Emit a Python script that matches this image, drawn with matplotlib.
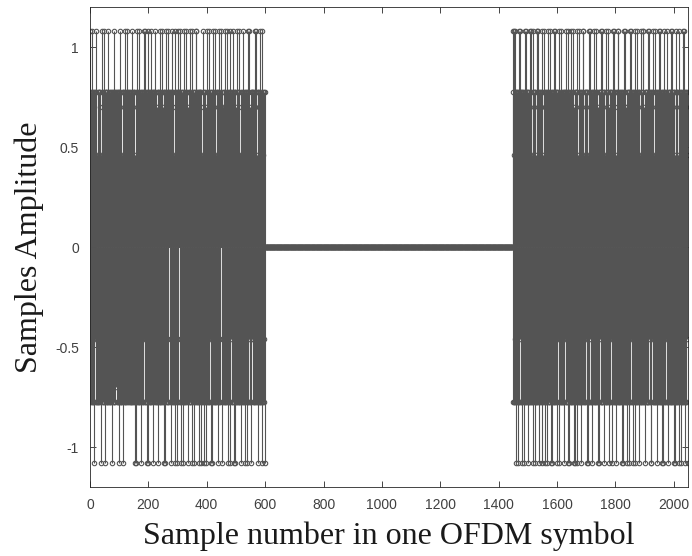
import numpy as np
import matplotlib
matplotlib.use("Agg")
import matplotlib.pyplot as plt

N_FFT = 2048
# amplitude levels seen in the plot, indexed by the digits in the strings below
LEVELS = [-1.08, -0.775, -0.70, -0.46, -0.155, 0.155, 0.46, 0.70, 0.775, 1.08]

# samples at the start of the symbol
BLOCK_1 = (
    "91816381917180813861" "81916381418183718063" "98113861918073818161"
    "81936181718184806381" "61819381728183618180" "81619381156180817381"
    "91816381917281836181" "81639181738180618041" "98113861918172806381"
    "81619381917183608180" "91836181918781638083" "81619381517180816381"
    "91816391837180816083" "61918391818673818061" "81917381619083816180"
    "93818861917380618081" "71916381819361807381" "81619381956081738108"
    "61919381718160838180" "81736191816083817061" "91816381917381608081"
    "63918171819361818063" "81916381759180617381" "81916381719360818180"
    "91836181751980638081" "71819361819183617081" "81639181716083815180"
    "91816391718160838183" "61819371918163818071" "81916381719081638180"
)
# samples at the end of the symbol
BLOCK_2 = (
    "91819161938180718081" "91816391818180718360" "81919163818180718163"
    "91918161938071818081" "61919381918081637180" "81916391818071818360"
    "91818163918071806381" "81919163818180738160" "91836191817181608183"
    "81916381918070816381" "91618193817081608180" "91836181917181806381"
    "91916381818371808160" "81913691817180816381" "91816391818071608183"
    "81916191837180816381" "91618193817081816380" "81916391817181608183"
    "91918163817180816081" "63918191717180816380" "81916391817081638180"
    "91618193817180816381" "91816391917180638181" "81916193817180806381"
    "91816381918170816381" "81916391817081608183" "91816381917180816381"
    "81916193817180806381" "91818163918071806381" "81916391818071816380"
)

XTICKS = [0, 200, 400, 600, 800, 1000, 1200, 1400, 1600, 1800, 2000]
YTICKS = [-1, -0.5, 0, 0.5, 1]

COLOR = "#545454"

b1 = np.array([LEVELS[int(c)] for c in BLOCK_1])
b2 = np.array([LEVELS[int(c)] for c in BLOCK_2])
y = np.zeros(N_FFT)
y[:len(b1)] = b1
y[N_FFT - len(b2):] = b2
x = np.arange(N_FFT)

fig = plt.figure(figsize=(6.92, 5.56), dpi=100)
ax = fig.add_axes([0.130, 0.124, 0.864, 0.863])

markers, stems, base = ax.stem(x, y, linefmt="-", markerfmt="o", basefmt="-")
stems.set_color(COLOR)
stems.set_linewidth(0.8)
markers.set_color(COLOR)
markers.set_markersize(3.2)
markers.set_markerfacecolor("none")
markers.set_markeredgewidth(0.8)
base.set_color(COLOR)
base.set_linewidth(0.6)

ax.set_xlim(0, N_FFT)
ax.set_ylim(-1.2, 1.2)
ax.set_xticks(XTICKS)
ax.set_yticks(YTICKS)
ax.set_yticklabels(["-1", "-0.5", "0", "0.5", "1"])
ax.tick_params(direction="in", top=True, right=True, length=4, width=0.6,
               colors="#262626", labelsize=10, labelcolor="#404040", pad=8)
for lab in ax.get_xticklabels() + ax.get_yticklabels():
    lab.set_family("Liberation Sans")
for sp in ax.spines.values():
    sp.set_color("#262626")
    sp.set_linewidth(0.6)

ax.set_xlabel("Sample number in one OFDM symbol", family="Liberation Serif",
              fontsize=23, color="#1a1a1a", labelpad=7)
ax.set_ylabel("Samples Amplitude", family="Liberation Serif",
              fontsize=23, color="#1a1a1a", labelpad=8)

fig.savefig("out.png", dpi=100)
